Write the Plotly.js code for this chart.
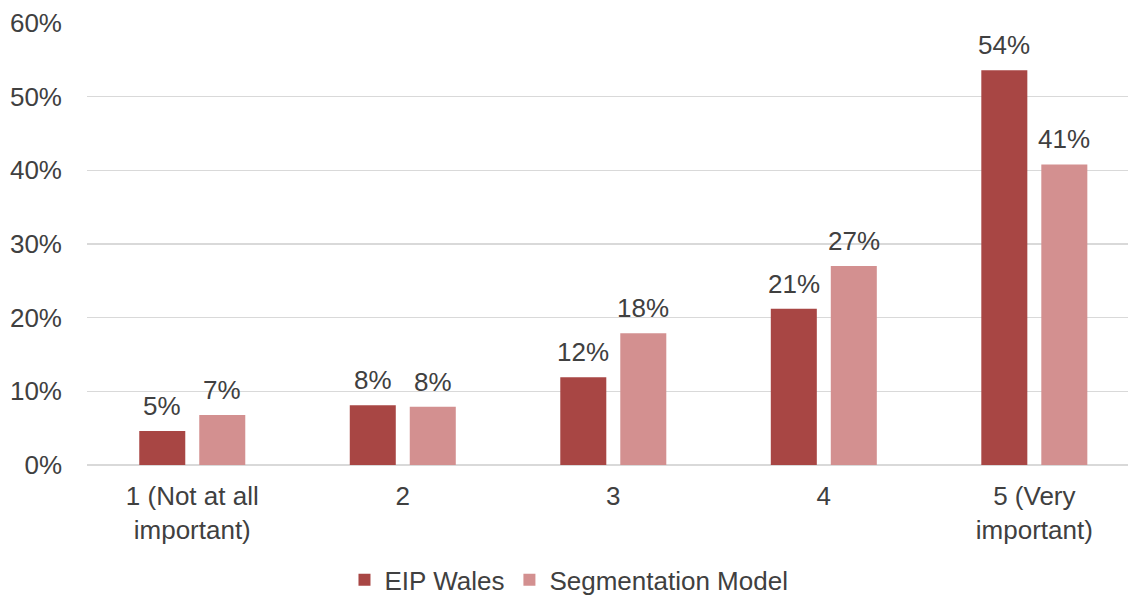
<!DOCTYPE html>
<html>
<head>
<meta charset="utf-8">
<script src="https://cdn.plot.ly/plotly-3.0.1.min.js"></script>
<style>body{margin:0;background:#fff;} #chart{width:1128px;height:596px;}</style>
</head>
<body>
<div id="chart"></div>
<script>
const categories = ["1 (Not at all<br>important)", "2", "3", "4", "5 (Very<br>important)"];
const eipWales = [0.046, 0.081, 0.119, 0.212, 0.536];
const eipLabels = ["5%", "8%", "12%", "21%", "54%"];
const segModel = [0.068, 0.079, 0.179, 0.270, 0.408];
const segLabels = ["7%", "8%", "18%", "27%", "41%"];
const yTicks = [0, 0.1, 0.2, 0.3, 0.4, 0.5, 0.6];
const yTickText = ["0%", "10%", "20%", "30%", "40%", "50%", "60%"];

const font = {family: "Liberation Sans, Arial, sans-serif", size: 26, color: "#404040"};
const idx = categories.map((_, i) => i);
const traces = [
  {type: "bar", name: "EIP Wales", x: idx, y: eipWales, marker: {color: "#A84644"}},
  {type: "bar", name: "Segmentation Model", x: idx, y: segModel, marker: {color: "#D39090"}}
];
const annotations = [];
idx.forEach(i => {
  annotations.push({x: i, y: eipWales[i], xref: "x", yref: "y", text: eipLabels[i], showarrow: false,
    xshift: -30, yshift: 8, yanchor: "bottom", font: font});
  annotations.push({x: i, y: segModel[i], xref: "x", yref: "y", text: segLabels[i], showarrow: false,
    xshift: 30, yshift: 8, yanchor: "bottom", font: font});
});
const layout = {
  width: 1128, height: 596,
  margin: {l: 87, r: 0, t: 23, b: 131, autoexpand: false},
  paper_bgcolor: "#fff", plot_bgcolor: "#fff",
  font: font,
  barmode: "group", bargap: 0.43, bargroupgap: 0.233,
  annotations: annotations,
  xaxis: {tickmode: "array", tickvals: idx, ticktext: categories, automargin: false,
    range: [-0.5, 4.445], showgrid: false, zeroline: false, showline: false,
    ticks: "", ticklabelstandoff: 13, tickfont: font},
  yaxis: {range: [0, 0.6], tickmode: "array", tickvals: yTicks, ticktext: yTickText, automargin: false,
    showgrid: true, gridcolor: "#d9d9d9", gridwidth: 1.5, zeroline: true, zerolinecolor: "#d9d9d9", zerolinewidth: 1.5,
    ticks: "", ticklabelstandoff: 24, tickfont: font},
  showlegend: true,
  legend: {orientation: "h", x: 0.463, xanchor: "center", yref: "container", y: 0.027, yanchor: "middle",
    font: font, itemwidth: 30, traceorder: "normal"}
};
Plotly.newPlot("chart", traces, layout, {displayModeBar: false, staticPlot: true});
</script>
</body>
</html>
